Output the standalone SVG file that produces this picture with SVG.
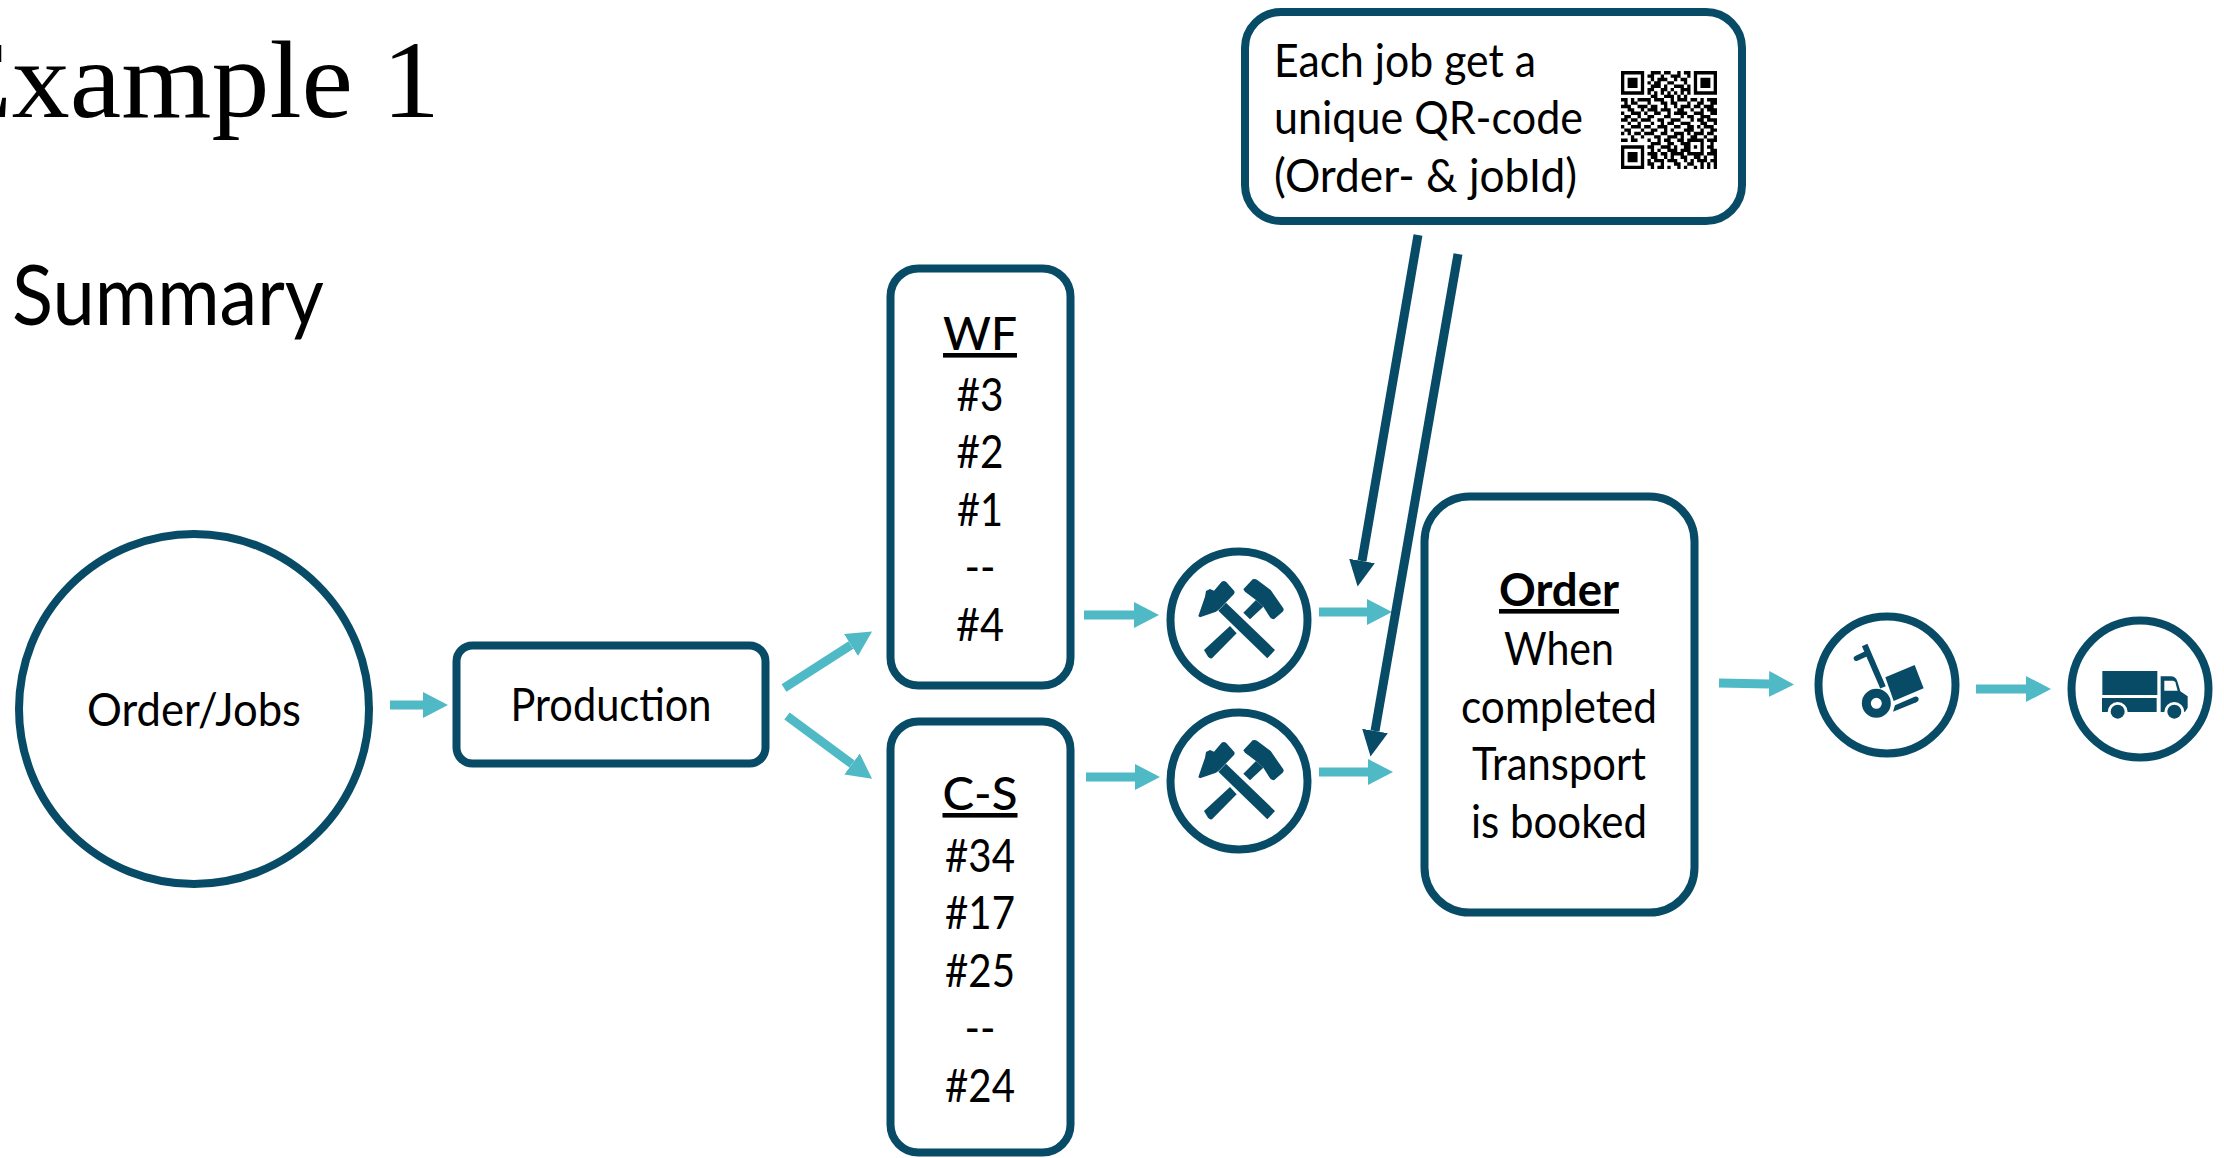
<svg xmlns="http://www.w3.org/2000/svg" width="2224" height="1158" viewBox="0 0 2224 1158">
<style>
text{font-family:"Lato","Noto Sans",sans-serif;fill:#000;font-size:46px}
.m{text-anchor:middle}
.h{font-weight:500;text-decoration:underline}
.box{fill:#fff;stroke:#074B67;stroke-width:8}
.t{stroke:#4FBAC6;stroke-width:9;fill:none;marker-end:url(#ta)}
.d{stroke:#074B67;stroke-width:9;fill:none;marker-end:url(#da)}
.i{fill:#074B67}
</style>
<defs>
<marker id="ta" markerUnits="userSpaceOnUse" markerWidth="25" markerHeight="26" refX="0" refY="13" orient="auto"><path d="M0,0L25,13L0,26z" fill="#4FBAC6"/></marker>
<marker id="da" markerUnits="userSpaceOnUse" markerWidth="26" markerHeight="26" refX="0" refY="13" orient="auto"><path d="M0,0L26,13L0,26z" fill="#074B67"/></marker>
<g id="ham">
<path class="i" d="M192,360L270,288L290,310L216,385Q210,387 204,380z"/>
<path class="i" d="M310,248L348,210L370,230L330,268z"/>
<path class="i" d="M310,178L338,148Q345,145 352,150L392,180L430,235Q433,240 428,245L402,268Q395,268 390,262L370,230L348,210L315,185z"/>
<path class="i" d="M235,242L258,218L405,360L382,385z"/>
<path class="i" d="M175,258L195,200L198,183L210,177L222,182L245,155Q252,151 258,155L283,183Q285,188 282,192L238,238L228,245L180,262z"/>
</g>
</defs>
<g id="title"><text x="-59" y="117" textLength="499" lengthAdjust="spacingAndGlyphs" style="font-family:'Liberation Serif',serif;font-size:110px">Example 1</text></g>
<g id="subtitle"><text x="12" y="325" textLength="312" lengthAdjust="spacingAndGlyphs" style="font-size:84px">Summary</text></g>
<g id="connectors">
<path class="t" d="M390,705H423"/>
<path class="t" d="M784,688L851,645"/>
<path class="t" d="M787,716L852,764"/>
<path class="t" d="M1084,615H1134"/>
<path class="t" d="M1086,777H1135"/>
<path class="t" d="M1319,612H1367"/>
<path class="t" d="M1319,772H1368"/>
<path class="t" d="M1719,683L1769,684"/>
<path class="t" d="M1976,689H2026"/>
<path class="d" d="M1418,235L1362,561"/>
<path class="d" d="M1458,254L1375,731"/>
</g>
<g id="order-jobs"><circle class="box" cx="194" cy="709" r="175"/><text class="m" x="194" y="726" textLength="214" lengthAdjust="spacingAndGlyphs">Order/Jobs</text></g>
<g id="production"><rect class="box" x="456.500" y="645.500" width="309" height="118" rx="16"/><text class="m" x="611" y="721" textLength="201" lengthAdjust="spacingAndGlyphs">Production</text></g>
<g id="wf"><rect class="box" x="890.500" y="268.500" width="180" height="417" rx="28"/>
<text class="m h" x="980" y="350" textLength="74" lengthAdjust="spacingAndGlyphs">WF</text><text class="m" x="980" y="411" textLength="47" lengthAdjust="spacingAndGlyphs">#3</text><text class="m" x="980" y="468" textLength="47" lengthAdjust="spacingAndGlyphs">#2</text><text class="m" x="980" y="526" textLength="46" lengthAdjust="spacingAndGlyphs">#1</text><text class="m" x="980" y="583" textLength="31" lengthAdjust="spacingAndGlyphs">--</text><text class="m" x="980" y="641" textLength="48" lengthAdjust="spacingAndGlyphs">#4</text></g>
<g id="cs"><rect class="box" x="890.500" y="721.500" width="180" height="431" rx="28"/>
<text class="m h" x="980" y="810" textLength="75" lengthAdjust="spacingAndGlyphs">C-S</text><text class="m" x="980" y="872" textLength="70" lengthAdjust="spacingAndGlyphs">#34</text><text class="m" x="980" y="929" textLength="70" lengthAdjust="spacingAndGlyphs">#17</text><text class="m" x="980" y="987" textLength="70" lengthAdjust="spacingAndGlyphs">#25</text><text class="m" x="980" y="1044" textLength="31" lengthAdjust="spacingAndGlyphs">--</text><text class="m" x="980" y="1102" textLength="70" lengthAdjust="spacingAndGlyphs">#24</text></g>
<g id="order"><rect class="box" x="1424.500" y="496.500" width="270" height="416" rx="45"/>
<text class="m h" x="1559" y="606" textLength="120" lengthAdjust="spacingAndGlyphs" style="font-weight:700">Order</text><text class="m" x="1559" y="665" textLength="110" lengthAdjust="spacingAndGlyphs">When</text><text class="m" x="1559" y="723" textLength="196" lengthAdjust="spacingAndGlyphs">completed</text><text class="m" x="1559" y="780" textLength="174" lengthAdjust="spacingAndGlyphs">Transport</text><text class="m" x="1559" y="838" textLength="176" lengthAdjust="spacingAndGlyphs">is booked</text></g>
<g id="qr-note"><rect class="box" x="1245" y="12" width="497" height="209" rx="36"/>
<text x="1274" y="77" textLength="262" lengthAdjust="spacingAndGlyphs">Each job get a</text><text x="1274" y="134" textLength="309" lengthAdjust="spacingAndGlyphs">unique QR-code</text><text x="1274" y="192" textLength="303" lengthAdjust="spacingAndGlyphs">(Order- &amp; jobId)</text>
<path transform="translate(1621,71) scale(3.31,3.38)" fill="none" stroke="#000" stroke-width="1" d="M0,.5h7M9,.5h3M13,.5h2M17,.5h1M19,.5h2M22,.5h7M0,1.500h1M6,1.500h1M8,1.500h2M12,1.500h1M15,1.500h3M20,1.500h1M22,1.500h1M28,1.500h1M0,2.500h1M2,2.500h3M6,2.500h1M9,2.500h1M11,2.500h3M16,2.500h1M18,2.500h2M22,2.500h1M24,2.500h3M28,2.500h1M0,3.500h1M2,3.500h3M6,3.500h1M8,3.500h1M10,3.500h2M14,3.500h2M19,3.500h1M22,3.500h1M24,3.500h3M28,3.500h1M0,4.500h1M2,4.500h3M6,4.500h1M9,4.500h3M13,4.500h1M16,4.500h3M20,4.500h1M22,4.500h1M24,4.500h3M28,4.500h1M0,5.500h1M6,5.500h1M8,5.500h2M12,5.500h2M15,5.500h1M18,5.500h3M22,5.500h1M28,5.500h1M0,6.500h7M8,6.500h1M10,6.500h1M12,6.500h1M14,6.500h1M16,6.500h1M18,6.500h1M20,6.500h1M22,6.500h7M9,7.500h2M13,7.500h3M17,7.500h1M19,7.500h1M0,8.500h2M3,8.500h1M5,8.500h2M7,8.500h2M10,8.500h3M15,8.500h1M17,8.500h3M21,8.500h2M24,8.500h1M26,8.500h3M1,9.500h1M3,9.500h2M8,9.500h1M12,9.500h2M15,9.500h2M20,9.500h1M23,9.500h2M27,9.500h2M0,10.500h3M5,10.500h3M9,10.500h2M13,10.500h1M16,10.500h1M18,10.500h3M22,10.500h2M25,10.500h3M2,11.500h2M6,11.500h1M8,11.500h3M12,11.500h3M17,11.500h2M21,11.500h1M24,11.500h1M26,11.500h3M0,12.500h1M3,12.500h3M7,12.500h1M10,12.500h2M14,12.500h1M16,12.500h4M22,12.500h3M27,12.500h2M1,13.500h2M5,13.500h1M8,13.500h2M13,13.500h2M18,13.500h1M20,13.500h2M24,13.500h3M0,14.500h2M3,14.500h2M6,14.500h3M11,14.500h2M15,14.500h3M21,14.500h1M23,14.500h2M26,14.500h3M2,15.500h1M5,15.500h1M9,15.500h1M12,15.500h1M14,15.500h2M18,15.500h3M24,15.500h2M28,15.500h1M0,16.500h1M3,16.500h3M7,16.500h2M11,16.500h3M16,16.500h2M20,16.500h2M23,16.500h1M25,16.500h3M1,17.500h2M6,17.500h1M9,17.500h2M13,17.500h1M15,17.500h1M19,17.500h3M24,17.500h1M27,17.500h2M0,18.500h1M2,18.500h1M4,18.500h2M7,18.500h3M12,18.500h2M16,18.500h3M20,18.500h1M22,18.500h3M26,18.500h2M3,19.500h1M6,19.500h1M10,19.500h2M14,19.500h3M18,19.500h1M21,19.500h2M25,19.500h1M28,19.500h1M0,20.500h2M3,20.500h2M8,20.500h1M11,20.500h1M13,20.500h2M17,20.500h2M20,20.500h5M26,20.500h3M9,21.500h3M14,21.500h2M18,21.500h2M20,21.500h1M24,21.500h1M27,21.500h1M0,22.500h7M8,22.500h2M12,22.500h3M16,22.500h1M19,22.500h2M22,22.500h1M24,22.500h1M26,22.500h2M0,23.500h1M6,23.500h1M9,23.500h1M11,23.500h1M14,23.500h3M18,23.500h3M24,23.500h1M27,23.500h2M0,24.500h1M2,24.500h3M6,24.500h1M8,24.500h3M12,24.500h2M15,24.500h4M20,24.500h5M26,24.500h3M0,25.500h1M2,25.500h3M6,25.500h1M9,25.500h2M13,25.500h1M15,25.500h1M18,25.500h2M22,25.500h2M25,25.500h1M28,25.500h1M0,26.500h1M2,26.500h3M6,26.500h1M8,26.500h1M10,26.500h3M14,26.500h3M19,26.500h1M21,26.500h1M23,26.500h3M27,26.500h2M0,27.500h1M6,27.500h1M8,27.500h2M12,27.500h1M16,27.500h2M20,27.500h2M24,27.500h1M26,27.500h1M28,27.500h1M0,28.500h7M9,28.500h1M11,28.500h2M14,28.500h1M17,28.500h1M19,28.500h1M22,28.500h1M24,28.500h1M26,28.500h1M28,28.500h1"/>
</g>
<g id="work-1"><circle class="box" cx="1239" cy="620" r="68.500"/><use href="#ham" transform="translate(1239,620) scale(.3333) translate(-297,-270)"/></g>
<g id="work-2"><circle class="box" cx="1239" cy="781" r="68.500"/><use href="#ham" transform="translate(1239,781) scale(.3333) translate(-297,-270)"/></g>
<g id="cart"><circle class="box" cx="1887" cy="685" r="68.500"/>
<g transform="translate(1887,685) scale(.3333) translate(-292,-285)">
<path d="M225,165L280,292" stroke="#074B67" stroke-width="18" fill="none"/>
<path d="M200,205L228,192" stroke="#074B67" stroke-width="16" stroke-linecap="round" fill="none"/>
<path class="i" d="M287,262L375,225L402,295L312,333z"/>
<circle cx="260" cy="340" r="30" fill="none" stroke="#074B67" stroke-width="27"/>
<path class="i" d="M310,365L316,346L375,320Q385,318 387,326Q388,333 380,337z"/>
</g></g>
<g id="truck"><circle class="box" cx="2140" cy="689" r="68.500"/>
<g transform="translate(2140,689) scale(.3333) translate(-1049,-297)">
<path class="i" d="M936,243H1101V315H936z"/>
<path class="i" d="M935,324H1099V366H1012A30,30 0 0 0 952,366H935z"/>
<path class="i" d="M1111,259H1141Q1156,259 1161,274L1170,304L1192,319V353L1184,366H1182A30,30 0 0 0 1122,366H1111z"/>
<path d="M1122,272H1148Q1153,272 1155,277L1162,302H1122z" fill="#fff"/>
<circle class="i" cx="982" cy="365" r="21"/><circle class="i" cx="1152" cy="365" r="21"/>
</g></g>
</svg>
